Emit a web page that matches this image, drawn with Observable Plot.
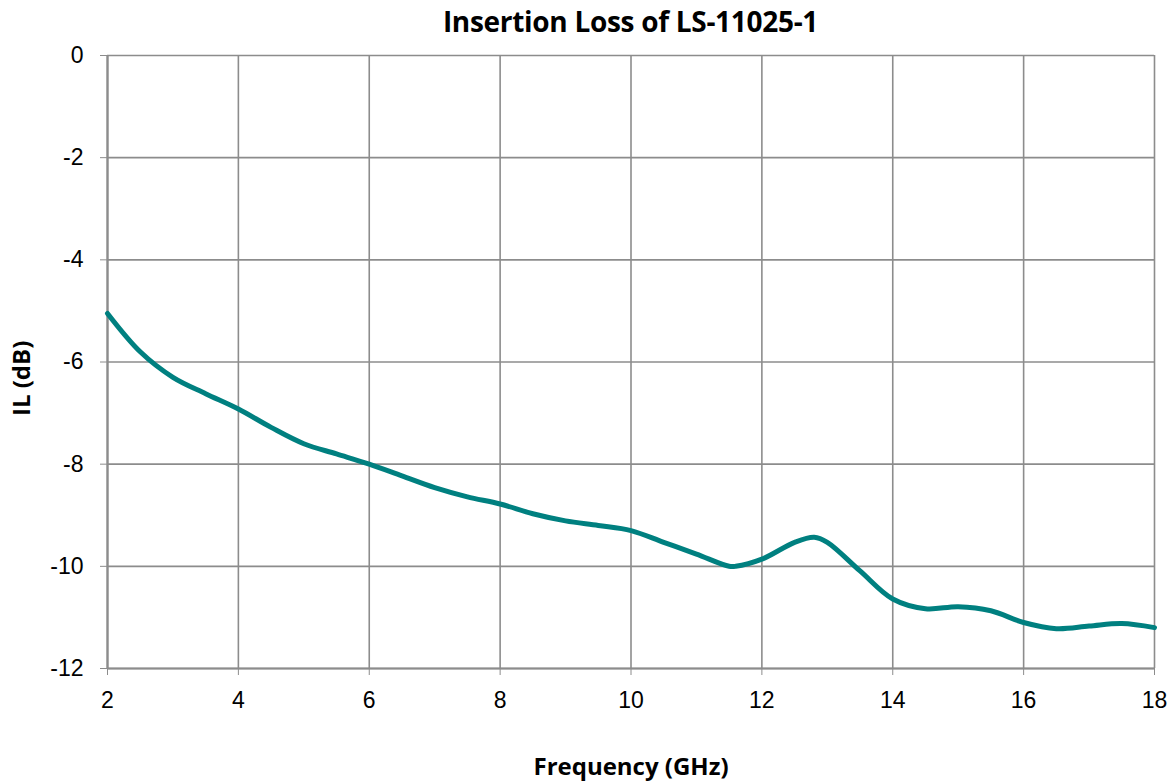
<!DOCTYPE html>
<html>
<head>
<meta charset="utf-8">
<script src="https://cdn.jsdelivr.net/npm/d3@7"></script>
<script src="https://cdn.jsdelivr.net/npm/@observablehq/plot@0.6"></script>
<style>
  body { margin: 0; background: #fff; }
  #title { height: 44px; box-sizing: border-box; padding: 4px 18px 0 107px; text-align: center;
    font: bold 28px "Open Sans", sans-serif; color: #000; line-height: 34px; letter-spacing: -0.3px; }
</style>
</head>
<body>
<div id="title">Insertion Loss of LS-11025-1</div>
<div id="chart"></div>
<script>
const freqGHz = [2, 2.5, 3, 3.5, 4, 4.5, 5, 5.5, 6, 6.5, 7, 7.5, 8, 8.5, 9, 9.5, 10, 10.5, 11, 11.5, 11.6, 12, 12.5, 12.8, 13, 13.5, 14, 14.5, 15, 15.5, 16, 16.5, 17, 17.5, 18];
const ilDb = [-5.05, -5.8, -6.3, -6.62, -6.92, -7.28, -7.6, -7.8, -8.0, -8.23, -8.46, -8.64, -8.78, -8.97, -9.11, -9.2, -9.3, -9.53, -9.76, -10.0, -10.0, -9.86, -9.53, -9.43, -9.53, -10.09, -10.64, -10.83, -10.79, -10.87, -11.1, -11.22, -11.17, -11.12, -11.2];
const xTicks = [2, 4, 6, 8, 10, 12, 14, 16, 18];
const yTicks = [0, -2, -4, -6, -8, -10, -12];
const xLabel = "Frequency (GHz)";
const yLabel = "IL (dB)";

const data = freqGHz.map((f, i) => ({f, il: ilDb[i]}));
const gray = "#8c8c8c";
const fmt = d => String(d);

const chart = Plot.plot({
  width: 1172,
  height: 737,
  marginTop: 11,
  marginLeft: 107,
  marginRight: 18,
  marginBottom: 113,
  style: {fontFamily: "'Liberation Sans', Arial, sans-serif", fontSize: "23px", color: "#000", background: "#fff", overflow: "visible"},
  x: {domain: [2, 18], ticks: xTicks},
  y: {domain: [-12, 0], ticks: yTicks},
  marks: [
    Plot.gridX(xTicks, {stroke: gray, strokeOpacity: 1, strokeWidth: 1.6}),
    Plot.gridY(yTicks, {stroke: gray, strokeOpacity: 1, strokeWidth: 1.6}),
    Plot.ruleY([-12], {stroke: gray, strokeWidth: 2.2}),
    Plot.ruleX([2], {stroke: gray, strokeWidth: 2.2}),
    Plot.axisX(xTicks, {tickSize: 7, tickPadding: 16, stroke: gray, label: null, fill: "#000", fontSize: 23, tickFormat: fmt}),
    Plot.axisY(yTicks, {tickSize: 7, tickPadding: 17, stroke: gray, label: null, fill: "#000", fontSize: 23, tickFormat: fmt}),
    Plot.line(data, {x: "f", y: "il", stroke: "#008080", strokeWidth: 5, curve: "catmull-rom"}),
    Plot.text([xLabel], {frameAnchor: "bottom", dy: 106, text: d => d, fontWeight: "bold", fontSize: 24, fontFamily: "'Open Sans', sans-serif", fill: "#000"}),
    Plot.text([yLabel], {frameAnchor: "left", dx: -85, dy: 54, rotate: -90, text: d => d, fontWeight: "bold", fontSize: 24, fontFamily: "'Open Sans', sans-serif", fill: "#000"})
  ]
});
document.getElementById("chart").appendChild(chart);
</script>
</body>
</html>
